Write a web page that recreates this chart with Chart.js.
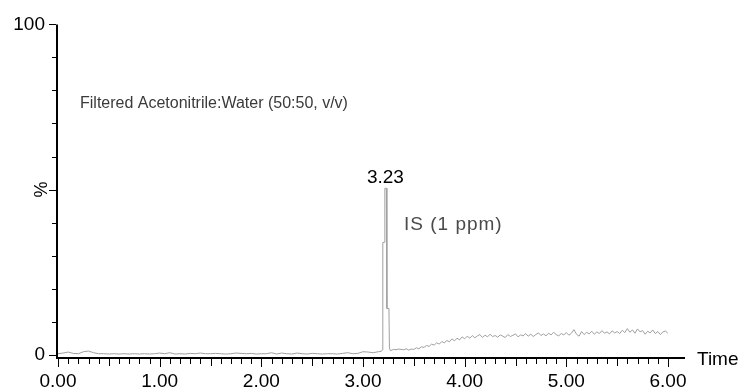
<!DOCTYPE html>
<html>
<head>
<meta charset="utf-8">
<script src="https://cdn.jsdelivr.net/npm/chart.js@4.4.0/dist/chart.umd.min.js"></script>
<style>
  html, body { margin: 0; padding: 0; background: #fff; }
  #wrap { width: 745px; height: 390px; }
</style>
</head>
<body>
<div id="wrap"><canvas id="grafico"></canvas></div>
<script>
// retention time (min)
const times = [
  0.00, 0.05, 0.10, 0.15, 0.20, 0.25, 0.30, 0.35, 0.40, 0.45,
  0.50, 0.55, 0.60, 0.65, 0.70, 0.75, 0.80, 0.85, 0.90, 0.95,
  1.00, 1.05, 1.10, 1.15, 1.20, 1.25, 1.30, 1.35, 1.40, 1.45,
  1.50, 1.55, 1.60, 1.65, 1.70, 1.75, 1.80, 1.85, 1.90, 1.95,
  2.00, 2.05, 2.10, 2.15, 2.20, 2.25, 2.30, 2.35, 2.40, 2.45,
  2.50, 2.55, 2.60, 2.65, 2.70, 2.75, 2.80, 2.85, 2.90, 2.95,
  3.00, 3.05, 3.10, 3.15,
  3.18, 3.19, 3.195, 3.21, 3.215, 3.23, 3.235, 3.255, 3.26, 3.27,
  3.300, 3.325, 3.350, 3.375, 3.400, 3.425, 3.450, 3.475, 3.500, 3.525,
  3.550, 3.575, 3.600, 3.625, 3.650, 3.675, 3.700, 3.725, 3.750, 3.775,
  3.800, 3.825, 3.850, 3.875, 3.900, 3.925, 3.950, 3.975, 4.000, 4.025,
  4.050, 4.075, 4.100, 4.125, 4.150, 4.175, 4.200, 4.225, 4.250, 4.275,
  4.300, 4.325, 4.350, 4.375, 4.400, 4.425, 4.450, 4.475, 4.500, 4.525,
  4.550, 4.575, 4.600, 4.625, 4.650, 4.675, 4.700, 4.725, 4.750, 4.775,
  4.800, 4.825, 4.850, 4.875, 4.900, 4.925, 4.950, 4.975, 5.000, 5.025,
  5.050, 5.075, 5.100, 5.125, 5.150, 5.175, 5.200, 5.225, 5.250, 5.275,
  5.300, 5.325, 5.350, 5.375, 5.400, 5.425, 5.450, 5.475, 5.500, 5.525,
  5.550, 5.575, 5.600, 5.625, 5.650, 5.675, 5.700, 5.725, 5.750, 5.775,
  5.800, 5.825, 5.850, 5.875, 5.900, 5.925, 5.950, 5.975, 6.000
];

// relative intensity (%)
const intensity = [
  0.3, 0.5, 0.8, 0.4, 0.3, 0.9, 1.1, 0.6, 0.3, 0.3,
  0.2, 0.3, 0.2, 0.3, 0.2, 0.3, 0.2, 0.3, 0.2, 0.3,
  0.5, 0.3, 0.6, 0.2, 0.3, 0.2, 0.4, 0.3, 0.5, 0.3,
  0.3, 0.4, 0.3, 0.2, 0.3, 0.5, 0.4, 0.3, 0.4, 0.2,
  0.3, 0.3, 0.6, 0.2, 0.5, 0.3, 0.2, 0.5, 0.3, 0.2,
  0.4, 0.3, 0.2, 0.3, 0.3, 0.2, 0.4, 0.6, 0.3, 0.4,
  0.9, 0.8, 0.6, 0.9,
  1.0, 1.5, 34, 34, 50.4, 50.4, 14, 14, 2.0, 1.2,
  1.6, 1.5, 1.7, 1.6, 1.5, 1.8, 1.4, 1.7, 1.6, 2.1,
  1.8, 2.4, 2.2, 2.8, 2.5, 3.2, 2.9, 3.6, 3.2, 4.0,
  3.6, 4.3, 3.9, 4.8, 4.2, 5.0, 4.5, 5.4, 4.8, 5.6,
  5.0, 5.8, 5.1, 5.7, 6.1, 5.2, 5.9, 5.4, 6.2, 5.5,
  5.8, 5.3, 6.0, 5.6, 5.2, 6.1, 5.5, 5.9, 6.3, 5.4,
  6.0, 5.7, 6.4, 5.6, 6.2, 5.5, 6.1, 6.6, 5.8, 6.3,
  5.7, 6.5, 6.0, 6.8, 6.1, 5.7, 6.4, 6.0, 6.7, 5.9,
  6.5, 7.6, 6.2, 5.6, 7.0, 6.1, 6.8, 6.3, 7.1, 6.2,
  6.9, 6.4, 7.3, 6.5, 6.9, 6.3, 7.2, 6.6, 7.0, 6.4,
  7.4, 6.7, 7.9, 6.8, 7.5, 6.5, 7.8, 6.9, 7.3, 6.2,
  7.1, 6.6, 7.5, 6.4, 7.0, 6.1, 6.9, 7.2, 6.4
];

const xLabelTicks = [0, 1, 2, 3, 4, 5, 6];
const yLabelTicks = [0, 100];
const peakTime = 3.23;
const peakHeight = 50.4;

const FONT = "'Liberation Sans', Arial, sans-serif";

const eixos = {
  id: "eixos",
  afterDraw(chart) {
    const { ctx, chartArea, scales } = chart;
    const x = scales.x;
    const y = scales.y;
    const esq = chartArea.left - 1;
    const base = chartArea.bottom;

    ctx.save();
    ctx.strokeStyle = "#000";
    ctx.lineWidth = 2;
    ctx.beginPath();
    ctx.moveTo(esq, chartArea.top);
    ctx.lineTo(esq, base);
    ctx.lineTo(685, base);
    ctx.stroke();

    // y ticks every 10 %
    ctx.lineWidth = 1;
    for (let v = 0; v <= 100; v += 10) {
      const py = Math.round(y.getPixelForValue(v)) + 0.5;
      const len = v % 50 === 0 ? 7 : 4;
      ctx.beginPath();
      ctx.moveTo(esq - 1, py);
      ctx.lineTo(esq - 1 - len, py);
      ctx.stroke();
    }

    // x ticks every 0.1 min
    for (let i = 0; i <= 60; i++) {
      const px = Math.round(x.getPixelForValue(i / 10)) + 0.5;
      const len = i % 10 === 0 ? 8 : (i % 5 === 0 ? 7 : 5);
      ctx.beginPath();
      ctx.moveTo(px, base + 1);
      ctx.lineTo(px, base + 1 + len);
      ctx.stroke();
    }

    // texts
    ctx.textBaseline = "alphabetic";
    ctx.fillStyle = "#000";
    ctx.font = "19px " + FONT;
    ctx.textAlign = "left";
    ctx.fillText("Time", 697, 365);

    ctx.textAlign = "center";
    ctx.fillText("3.23", x.getPixelForValue(peakTime) - 1, y.getPixelForValue(peakHeight) - 5);

    ctx.save();
    ctx.translate(47, y.getPixelForValue(50));
    ctx.rotate(-Math.PI / 2);
    ctx.font = "18px " + FONT;
    ctx.fillText("%", 0, 0);
    ctx.restore();

    ctx.textAlign = "left";
    ctx.fillStyle = "#3a3a3a";
    ctx.font = "16px " + FONT;
    ctx.fillText("Filtered Acetonitrile:Water (50:50, v/v)", 80, 108);

    ctx.fillStyle = "#4a4a4a";
    ctx.font = "19px " + FONT;
    ctx.letterSpacing = "1px";
    ctx.fillText("IS (1 ppm)", 404, 230);
    ctx.restore();
  }
};

const pontos = times.map((t, i) => ({ x: t, y: intensity[i] }));

new Chart(document.getElementById("grafico"), {
  type: "line",
  data: {
    datasets: [
      {
        data: pontos,
        borderColor: "#a0a0a0",
        borderWidth: 1,
        pointRadius: 0,
        tension: 0,
        fill: false
      }
    ]
  },
  options: {
    responsive: true,
    maintainAspectRatio: false,
    animation: false,
    events: [],
    layout: { padding: { left: 0, right: 77, top: 24, bottom: 0 } },
    plugins: { legend: { display: false }, tooltip: { enabled: false } },
    scales: {
      x: {
        type: "linear",
        min: 0,
        max: 6,
        grid: { display: false, drawTicks: false },
        border: { display: false },
        afterFit: (s) => { s.height = 32; },
        afterBuildTicks: (s) => { s.ticks = xLabelTicks.map((v) => ({ value: v })); },
        ticks: {
          padding: 12,
          color: "#000",
          font: { size: 19, family: FONT },
          callback: (v) => Number(v).toFixed(2)
        }
      },
      y: {
        min: -1,
        max: 100,
        grid: { display: false, drawTicks: false },
        border: { display: false },
        afterFit: (s) => { s.width = 58; },
        afterBuildTicks: (s) => { s.ticks = yLabelTicks.map((v) => ({ value: v })); },
        ticks: {
          padding: 13,
          color: "#000",
          font: { size: 19, family: FONT },
          callback: (v) => String(v)
        }
      }
    }
  },
  plugins: [eixos]
});
</script>
</body>
</html>
